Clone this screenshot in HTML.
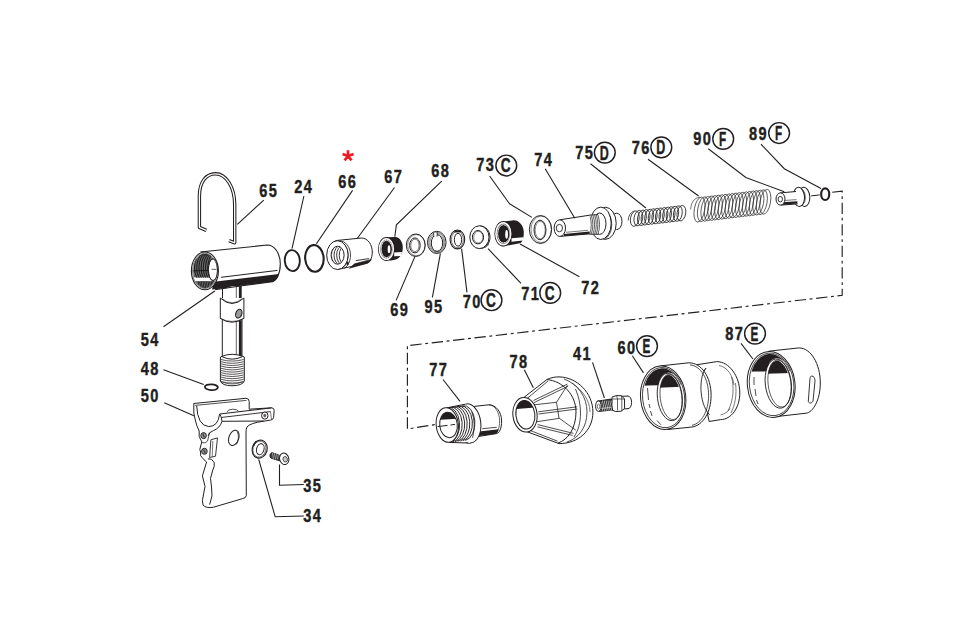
<!DOCTYPE html>
<html><head><meta charset="utf-8"><style>
html,body{margin:0;padding:0;background:#fff;width:966px;height:627px;overflow:hidden}
svg{display:block}
text{font-family:"Liberation Sans",sans-serif;font-weight:bold;fill:#231f20;stroke:#231f20;stroke-width:0.45px}
</style></head><body>
<svg width="966" height="627" viewBox="0 0 966 627">
<path d="M222.3,320 L222.3,357 M242,320 L242,357" fill="none" stroke="#231f20" stroke-width="1.0" stroke-linejoin="round" />
<path d="M238.9,284 L241.7,284 L241.7,357 L238.9,357 Z" fill="#231f20" stroke="none" />
<path d="M236.3,286 L236.3,356" fill="none" stroke="#231f20" stroke-width="0.7" stroke-linejoin="round" />
<path d="M222.5,288 L222.5,298" fill="none" stroke="#231f20" stroke-width="1.0" stroke-linejoin="round" />
<path d="M220.3,298 L220.3,318.4 Q232,326 243.9,318.4 L243.9,298" fill="#fff" stroke="#231f20" stroke-width="1.0" stroke-linejoin="round" />
<path d="M220.3,298 Q232,309 243.9,298" fill="none" stroke="#231f20" stroke-width="1.0" stroke-linejoin="round" />
<path d="M222,298.6 Q232,307 242.3,298.6" fill="none" stroke="#231f20" stroke-width="0.6" stroke-linejoin="round" />
<path d="M220.3,318.4 Q232,324.5 243.9,318.4" fill="none" stroke="#231f20" stroke-width="0.6" stroke-linejoin="round" />
<ellipse cx="238.8" cy="313.7" rx="3.0" ry="4.5" fill="#9a9a9a" stroke="#231f20" stroke-width="1.1" transform="rotate(20 238.8 313.7)" />
<path d="M220.4,357 L220.4,381 Q222,385.6 232,385.8 Q242.5,385.6 244.3,381 L244.3,357 Q232,351.5 220.4,357 Z" fill="#fff" stroke="#231f20" stroke-width="1.0" stroke-linejoin="round" />
<path d="M221,359.5 Q232,362.7 243.7,359.5" fill="none" stroke="#231f20" stroke-width="0.75" stroke-linejoin="round" />
<path d="M221,361.7 Q232,364.9 243.7,361.7" fill="none" stroke="#231f20" stroke-width="0.75" stroke-linejoin="round" />
<path d="M221,363.9 Q232,367.1 243.7,363.9" fill="none" stroke="#231f20" stroke-width="0.75" stroke-linejoin="round" />
<path d="M221,366.1 Q232,369.3 243.7,366.1" fill="none" stroke="#231f20" stroke-width="0.75" stroke-linejoin="round" />
<path d="M221,368.3 Q232,371.5 243.7,368.3" fill="none" stroke="#231f20" stroke-width="0.75" stroke-linejoin="round" />
<path d="M221,370.5 Q232,373.7 243.7,370.5" fill="none" stroke="#231f20" stroke-width="0.75" stroke-linejoin="round" />
<path d="M221,372.7 Q232,375.9 243.7,372.7" fill="none" stroke="#231f20" stroke-width="0.75" stroke-linejoin="round" />
<path d="M221,374.9 Q232,378.1 243.7,374.9" fill="none" stroke="#231f20" stroke-width="0.75" stroke-linejoin="round" />
<path d="M221,377.1 Q232,380.3 243.7,377.1" fill="none" stroke="#231f20" stroke-width="0.75" stroke-linejoin="round" />
<path d="M221,379.3 Q232,382.5 243.7,379.3" fill="none" stroke="#231f20" stroke-width="0.75" stroke-linejoin="round" />
<path d="M221,381.5 Q232,384.7 243.7,381.5" fill="none" stroke="#231f20" stroke-width="0.75" stroke-linejoin="round" />
<path d="M222.3,356.8 Q232,361.5 242,356.8" fill="none" stroke="#231f20" stroke-width="1.0" stroke-linejoin="round" />
<path d="M222,382 Q232,386 242.7,382" fill="none" stroke="#231f20" stroke-width="0.6" stroke-linejoin="round" />
<path d="M200.4,252 L267.3,245 C274.5,245 280.3,253.5 280.3,264 C280.3,273.5 276.5,281.5 270.5,282 L242,285.7 L215,289.8" fill="#fff" stroke="#231f20" stroke-width="1.1" stroke-linejoin="round" />
<path d="M214,281.8 L278.9,274 C278.3,278.3 275.5,281.6 270.5,282 L242,285.6 L238,286.2 L232.5,286.3 Q229,286.6 226,288.3 L212,289.6 Z" fill="#231f20" stroke="none" />
<path d="M221,277.3 L277.4,270.4" fill="none" stroke="#231f20" stroke-width="1.0" stroke-linejoin="round" />
<ellipse cx="204.9" cy="270.9" rx="13.5" ry="18.9" fill="#fff" stroke="#231f20" stroke-width="1.1" />
<ellipse cx="204.9" cy="270.9" rx="12.4" ry="17.8" fill="none" stroke="#231f20" stroke-width="0.6" />
<clipPath id="c54"><ellipse cx="204.9" cy="270.9" rx="11.7" ry="17.1"/></clipPath>
<g clip-path="url(#c54)">
<path d="M190,250 L214,250 L214,277.4 L190,277.4 Z" fill="#6a6a6a" stroke="none" />
<path d="M201.5,254.0 A7,13.5 0 0 0 201.5,281.0" fill="none" stroke="#1e1e1e" stroke-width="1.1" stroke-linejoin="round" />
<path d="M203.7,254.0 A7,13.5 0 0 0 203.7,281.0" fill="none" stroke="#1e1e1e" stroke-width="1.1" stroke-linejoin="round" />
<path d="M205.9,254.0 A7,13.5 0 0 0 205.9,281.0" fill="none" stroke="#1e1e1e" stroke-width="1.1" stroke-linejoin="round" />
<path d="M208.1,254.0 A7,13.5 0 0 0 208.1,281.0" fill="none" stroke="#1e1e1e" stroke-width="1.1" stroke-linejoin="round" />
<path d="M210.3,254.0 A7,13.5 0 0 0 210.3,281.0" fill="none" stroke="#1e1e1e" stroke-width="1.1" stroke-linejoin="round" />
<path d="M212.5,254.0 A7,13.5 0 0 0 212.5,281.0" fill="none" stroke="#1e1e1e" stroke-width="1.1" stroke-linejoin="round" />
<path d="M214.7,254.0 A7,13.5 0 0 0 214.7,281.0" fill="none" stroke="#1e1e1e" stroke-width="1.1" stroke-linejoin="round" />
<path d="M190,277.8 L216,277.8 L216,281.0 L190,281.0 Z" fill="#fff" stroke="none" />
<path d="M190,281.3 L216,281.3 L216,292 L190,292 Z" fill="#2e2e2e" stroke="none" />
<path d="M198.0,281.5 L196.5,287.5" fill="none" stroke="#999" stroke-width="0.5" stroke-linejoin="round" />
<path d="M200.5,281.5 L199.0,287.5" fill="none" stroke="#999" stroke-width="0.5" stroke-linejoin="round" />
<path d="M203.0,281.5 L201.5,287.5" fill="none" stroke="#999" stroke-width="0.5" stroke-linejoin="round" />
<path d="M205.5,281.5 L204.0,287.5" fill="none" stroke="#999" stroke-width="0.5" stroke-linejoin="round" />
<path d="M208.0,281.5 L206.5,287.5" fill="none" stroke="#999" stroke-width="0.5" stroke-linejoin="round" />
<path d="M210.5,281.5 L209.0,287.5" fill="none" stroke="#999" stroke-width="0.5" stroke-linejoin="round" />
<ellipse cx="213" cy="269.7" rx="4.6" ry="10.9" fill="#fff" stroke="#231f20" stroke-width="0.9" />
<path d="M192,270.8 L208.5,270.5" fill="none" stroke="#111" stroke-width="0.9" stroke-linejoin="round" />
</g>
<ellipse cx="213" cy="269.7" rx="4.6" ry="10.9" fill="none" stroke="#231f20" stroke-width="0.8" />
<path d="M211.5,269.3 L216.5,269.3 M217.5,268 L217.5,271" fill="none" stroke="#231f20" stroke-width="0.7" stroke-linejoin="round" />
<path d="M206.3,230.4 L199.4,227.4 L199.4,196 C199.4,182 206,173.8 215.5,173.8 C226,173.8 234.7,187 234.7,205 L234.7,242.8 L229,240.6" fill="none" stroke="#231f20" stroke-width="3.4" stroke-linejoin="round" />
<path d="M206.3,230.4 L199.4,227.4 L199.4,196 C199.4,182 206,173.8 215.5,173.8 C226,173.8 234.7,187 234.7,205 L234.7,242.8 L229,240.6" fill="none" stroke="#fff" stroke-width="1.3" stroke-linejoin="round" />
<ellipse cx="292.3" cy="260.6" rx="7.5" ry="10.5" fill="none" stroke="#231f20" stroke-width="1.9" transform="rotate(-4 292.3 260.6)" />
<ellipse cx="314.4" cy="258.4" rx="9.25" ry="13.35" fill="none" stroke="#231f20" stroke-width="2.1" transform="rotate(-4 314.4 258.4)" />
<path d="M335.4,240.6 L361.5,238 C368,238 372.3,245 372.3,252 C372.3,258.5 369.5,263 365.5,263.5 L337.4,269.5" fill="#fff" stroke="#231f20" stroke-width="1.0" stroke-linejoin="round" />
<path d="M349.5,268.2 L365.5,263.8 C368.3,263.2 370.5,261.5 371.3,259.4 L354.5,263.8 Z" fill="#231f20" stroke="#231f20" stroke-width="0.6" stroke-linejoin="round" />
<path d="M355.8,260.6 L369,258.6" fill="none" stroke="#231f20" stroke-width="0.9" stroke-linejoin="round" />
<path d="M337.6,240.9 A10.7,14.4 0 0 1 341.6,268.6" fill="none" stroke="#231f20" stroke-width="0.8" stroke-linejoin="round" />
<path d="M340.0,240.9 A10.7,14.4 0 0 1 344.0,268.6" fill="none" stroke="#231f20" stroke-width="0.8" stroke-linejoin="round" />
<ellipse cx="337.4" cy="255.1" rx="10.7" ry="14.4" fill="#fff" stroke="#231f20" stroke-width="1.0" />
<ellipse cx="337.6" cy="255.2" rx="6.5" ry="9" fill="#fff" stroke="#231f20" stroke-width="1.0" />
<clipPath id="c67"><ellipse cx="337.6" cy="255.2" rx="6.0" ry="8.5"/></clipPath>
<g clip-path="url(#c67)">
<path d="M338.0,245.5 A6.5,9.6 0 0 0 338.0,264.9" fill="none" stroke="#231f20" stroke-width="0.9" stroke-linejoin="round" />
<path d="M340.6,245.5 A6.5,9.6 0 0 0 340.6,264.9" fill="none" stroke="#231f20" stroke-width="0.9" stroke-linejoin="round" />
<path d="M343.2,245.5 A6.5,9.6 0 0 0 343.2,264.9" fill="none" stroke="#231f20" stroke-width="0.9" stroke-linejoin="round" />
<path d="M345.8,245.5 A6.5,9.6 0 0 0 345.8,264.9" fill="none" stroke="#231f20" stroke-width="0.9" stroke-linejoin="round" />
</g>
<path d="M346.3,262.3 L348.6,261.8 L348.9,264.6 L346.8,265.2 Z" fill="#231f20" stroke="none" />
<path d="M386.5,237.3 L395.3,236.9 C400,237.4 402.8,242 402.8,247.5 C402.8,253.5 400,258.7 395,259.8 L389.5,260.8 Z" fill="#231f20" stroke="none" />
<ellipse cx="386.4" cy="249" rx="8.4" ry="11.9" fill="#231f20" stroke="none" />
<ellipse cx="386.4" cy="249" rx="6.8" ry="10.2" fill="none" stroke="#fff" stroke-width="1.7" />
<ellipse cx="386.5" cy="249" rx="5.5" ry="8.7" fill="none" stroke="#f4f4f4" stroke-width="1.0" />
<ellipse cx="386.5" cy="249" rx="6.1" ry="9.4" fill="none" stroke="#888" stroke-width="0.4" />
<ellipse cx="387.3" cy="249.3" rx="4.5" ry="7.3" fill="#231f20" stroke="none" />
<ellipse cx="389.0" cy="249.2" rx="1.3" ry="3.9" fill="#fff" stroke="none" />
<path d="M394.2,252.4 L401.9,252.1 L401.3,256 L394.2,256.3 Z" fill="#fff" stroke="none" />
<ellipse cx="415.8" cy="245.2" rx="9.45" ry="11.25" fill="#fff" stroke="#231f20" stroke-width="1.0" />
<ellipse cx="416.3" cy="245.2" rx="8.6" ry="10.6" fill="none" stroke="#231f20" stroke-width="0.5" />
<ellipse cx="414.9" cy="245.4" rx="5.3" ry="7.5" fill="none" stroke="#231f20" stroke-width="1.0" />
<ellipse cx="414.9" cy="245.4" rx="4.1" ry="6.3" fill="none" stroke="#231f20" stroke-width="0.6" />
<ellipse cx="436.8" cy="242.4" rx="9.3" ry="11.1" fill="#fff" stroke="#231f20" stroke-width="1.0" />
<ellipse cx="436.8" cy="242.5" rx="8.1" ry="10.0" fill="none" stroke="#231f20" stroke-width="0.5" />
<ellipse cx="436.9" cy="242.7" rx="7.0" ry="9.1" fill="none" stroke="#231f20" stroke-width="0.5" />
<ellipse cx="437.0" cy="243.0" rx="5.7" ry="8.3" fill="none" stroke="#231f20" stroke-width="1.0" />
<path d="M433.4,233.2 L433.8,236.6 L436.9,236.6 L437.2,233.0 Z" fill="#fff" stroke="none" />
<path d="M433.4,232.4 L433.9,236.8 M437.3,232.2 L437.0,236.6" fill="none" stroke="#231f20" stroke-width="0.8" stroke-linejoin="round" />
<ellipse cx="457.4" cy="239.4" rx="7.3" ry="9.45" fill="#fff" stroke="#231f20" stroke-width="1.1" />
<ellipse cx="457.4" cy="239.5" rx="6.0" ry="8.2" fill="none" stroke="#231f20" stroke-width="0.6" />
<ellipse cx="458" cy="239.7" rx="3.65" ry="6.45" fill="none" stroke="#231f20" stroke-width="1.0" />
<path d="M454.2,230.6 L454.6,232.5 L460.8,232.3 L461,230.4 Z" fill="#231f20" stroke="none" />
<path d="M479.4,225.9 C486,225.9 490,231 490,237.2 C490,243.5 486,248.6 479.4,248.6" fill="#fff" stroke="#231f20" stroke-width="1.0" stroke-linejoin="round" />
<path d="M486.5,241 L489.5,240.5 L488.6,245 L485,248 Z" fill="#555" stroke="none" />
<ellipse cx="479.4" cy="237.2" rx="9.6" ry="11.4" fill="#fff" stroke="#231f20" stroke-width="1.0" />
<ellipse cx="478" cy="237.2" rx="5.6" ry="6.7" fill="none" stroke="#231f20" stroke-width="1.0" />
<ellipse cx="478.3" cy="237.2" rx="4.6" ry="5.8" fill="none" stroke="#231f20" stroke-width="0.5" />
<path d="M504.9,221.3 L513.9,220.3 C519.5,220.3 523.8,226 523.8,232.5 C523.8,238.5 522,243 519.9,243.3 L502.4,246.5 Z" fill="#231f20" stroke="none" />
<ellipse cx="503.3" cy="233.7" rx="8.9" ry="12.8" fill="#231f20" stroke="none" />
<ellipse cx="503.3" cy="233.7" rx="7.3" ry="10.9" fill="none" stroke="#fff" stroke-width="1.7" />
<ellipse cx="503.5" cy="233.8" rx="5.9" ry="9.2" fill="none" stroke="#f4f4f4" stroke-width="1.0" />
<ellipse cx="503.4" cy="233.8" rx="6.6" ry="10.0" fill="none" stroke="#888" stroke-width="0.4" />
<ellipse cx="504.5" cy="234.1" rx="4.9" ry="8.0" fill="#231f20" stroke="none" />
<ellipse cx="506.6" cy="234.3" rx="1.4" ry="4.4" fill="#fff" stroke="none" />
<path d="M511.5,238.2 L523.4,237.2 L523,240.6 L511.5,241.7 Z" fill="#fff" stroke="none" />
<ellipse cx="540.5" cy="229.5" rx="11.1" ry="14" fill="#fff" stroke="#231f20" stroke-width="1.0" />
<ellipse cx="541.2" cy="229.4" rx="10.2" ry="13.2" fill="none" stroke="#231f20" stroke-width="0.5" />
<ellipse cx="540" cy="230" rx="6" ry="9.8" fill="none" stroke="#231f20" stroke-width="1.0" />
<ellipse cx="540.2" cy="230" rx="5" ry="8.7" fill="none" stroke="#231f20" stroke-width="0.5" />
<ellipse cx="616.6" cy="221.4" rx="5.4" ry="8.2" fill="#fff" stroke="#231f20" stroke-width="1.0" />
<ellipse cx="605.2" cy="223.3" rx="11.0" ry="16.1" fill="#fff" stroke="#231f20" stroke-width="1.0" />
<ellipse cx="600.8" cy="223.3" rx="10.4" ry="16.2" fill="#fff" stroke="#231f20" stroke-width="1.0" />
<path d="M609.6,215.4 A10,15 0 0 1 605.4,238.6" fill="none" stroke="#231f20" stroke-width="0.8" stroke-linejoin="round" />
<ellipse cx="599.7" cy="223.7" rx="6.3" ry="10.7" fill="#fff" stroke="#231f20" stroke-width="1.0" />
<path d="M589.3,215.0 L596.5,214.6 L598.2,234.5 L589.3,234.3 Z" fill="#fff" stroke="none" />
<path d="M589.6,215.2 Q593.0,224.8 589.6,234.2" fill="none" stroke="#2a2a2a" stroke-width="0.75" stroke-linejoin="round" />
<path d="M591.2,215.1 Q594.6,224.8 591.2,234.2" fill="none" stroke="#2a2a2a" stroke-width="0.75" stroke-linejoin="round" />
<path d="M592.9,215.0 Q596.3,224.8 592.9,234.2" fill="none" stroke="#2a2a2a" stroke-width="0.75" stroke-linejoin="round" />
<path d="M594.6,214.9 Q598.0,224.8 594.6,234.2" fill="none" stroke="#2a2a2a" stroke-width="0.75" stroke-linejoin="round" />
<path d="M596.2,214.8 Q599.6,224.8 596.2,234.2" fill="none" stroke="#2a2a2a" stroke-width="0.75" stroke-linejoin="round" />
<path d="M597.9,214.7 Q601.2,224.8 597.9,234.2" fill="none" stroke="#2a2a2a" stroke-width="0.75" stroke-linejoin="round" />
<path d="M589.3,215.1 L598,214.5" fill="none" stroke="#231f20" stroke-width="0.9" stroke-linejoin="round" />
<path d="M589.3,234.2 L598.5,234.4" fill="none" stroke="#231f20" stroke-width="0.9" stroke-linejoin="round" />
<path d="M559.8,219.8 L589.6,215.2 L589.6,233.8 L560.4,236.4 Z" fill="#fff" stroke="none" />
<path d="M559.8,219.8 L589.6,215.2" fill="none" stroke="#231f20" stroke-width="1.0" stroke-linejoin="round" />
<path d="M560.4,236.4 L589.6,233.8" fill="none" stroke="#231f20" stroke-width="1.0" stroke-linejoin="round" />
<path d="M564,233.9 L589.6,231.6 L589.6,233.9 L564,236.1 Z" fill="#231f20" stroke="none" />
<path d="M566,232.3 L588,230.3" fill="none" stroke="#231f20" stroke-width="0.6" stroke-linejoin="round" />
<ellipse cx="559.8" cy="228.1" rx="5.7" ry="8.3" fill="#fff" stroke="#231f20" stroke-width="1.0" />
<ellipse cx="559.4" cy="228.1" rx="3.1" ry="3.7" fill="#fff" stroke="#231f20" stroke-width="0.9" />
<ellipse cx="634.80" cy="218.60" rx="4.3" ry="7.8" fill="none" stroke="#2a2a2a" stroke-width="0.85" transform="rotate(10 634.80 218.60)"/>
<ellipse cx="638.38" cy="218.18" rx="4.3" ry="7.8" fill="none" stroke="#2a2a2a" stroke-width="0.85" transform="rotate(10 638.38 218.18)"/>
<ellipse cx="641.97" cy="217.77" rx="4.3" ry="7.8" fill="none" stroke="#2a2a2a" stroke-width="0.85" transform="rotate(10 641.97 217.77)"/>
<ellipse cx="645.55" cy="217.35" rx="4.3" ry="7.8" fill="none" stroke="#2a2a2a" stroke-width="0.85" transform="rotate(10 645.55 217.35)"/>
<ellipse cx="649.14" cy="216.94" rx="4.3" ry="7.8" fill="none" stroke="#2a2a2a" stroke-width="0.85" transform="rotate(10 649.14 216.94)"/>
<ellipse cx="652.72" cy="216.52" rx="4.3" ry="7.8" fill="none" stroke="#2a2a2a" stroke-width="0.85" transform="rotate(10 652.72 216.52)"/>
<ellipse cx="656.31" cy="216.11" rx="4.3" ry="7.8" fill="none" stroke="#2a2a2a" stroke-width="0.85" transform="rotate(10 656.31 216.11)"/>
<ellipse cx="659.89" cy="215.69" rx="4.3" ry="7.8" fill="none" stroke="#2a2a2a" stroke-width="0.85" transform="rotate(10 659.89 215.69)"/>
<ellipse cx="663.48" cy="215.28" rx="4.3" ry="7.8" fill="none" stroke="#2a2a2a" stroke-width="0.85" transform="rotate(10 663.48 215.28)"/>
<ellipse cx="667.06" cy="214.86" rx="4.3" ry="7.8" fill="none" stroke="#2a2a2a" stroke-width="0.85" transform="rotate(10 667.06 214.86)"/>
<ellipse cx="670.65" cy="214.45" rx="4.3" ry="7.8" fill="none" stroke="#2a2a2a" stroke-width="0.85" transform="rotate(10 670.65 214.45)"/>
<ellipse cx="674.23" cy="214.03" rx="4.3" ry="7.8" fill="none" stroke="#2a2a2a" stroke-width="0.85" transform="rotate(10 674.23 214.03)"/>
<ellipse cx="677.82" cy="213.62" rx="4.3" ry="7.8" fill="none" stroke="#2a2a2a" stroke-width="0.85" transform="rotate(10 677.82 213.62)"/>
<ellipse cx="681.40" cy="213.20" rx="4.3" ry="7.8" fill="none" stroke="#2a2a2a" stroke-width="0.85" transform="rotate(10 681.40 213.20)"/>
<path d="M628.2,220.5 Q628.5,213 634.5,210.8" fill="none" stroke="#2e2e2e" stroke-width="0.8" stroke-linejoin="round" />
<ellipse cx="699.50" cy="209.60" rx="5.2" ry="12.6" fill="none" stroke="#363636" stroke-width="0.75" transform="rotate(10 699.50 209.60)"/>
<ellipse cx="702.96" cy="209.19" rx="5.2" ry="12.6" fill="none" stroke="#363636" stroke-width="0.75" transform="rotate(10 702.96 209.19)"/>
<ellipse cx="706.43" cy="208.78" rx="5.2" ry="12.6" fill="none" stroke="#363636" stroke-width="0.75" transform="rotate(10 706.43 208.78)"/>
<ellipse cx="709.89" cy="208.37" rx="5.2" ry="12.6" fill="none" stroke="#363636" stroke-width="0.75" transform="rotate(10 709.89 208.37)"/>
<ellipse cx="713.35" cy="207.96" rx="5.2" ry="12.6" fill="none" stroke="#363636" stroke-width="0.75" transform="rotate(10 713.35 207.96)"/>
<ellipse cx="716.82" cy="207.55" rx="5.2" ry="12.6" fill="none" stroke="#363636" stroke-width="0.75" transform="rotate(10 716.82 207.55)"/>
<ellipse cx="720.28" cy="207.14" rx="5.2" ry="12.6" fill="none" stroke="#363636" stroke-width="0.75" transform="rotate(10 720.28 207.14)"/>
<ellipse cx="723.74" cy="206.73" rx="5.2" ry="12.6" fill="none" stroke="#363636" stroke-width="0.75" transform="rotate(10 723.74 206.73)"/>
<ellipse cx="727.21" cy="206.32" rx="5.2" ry="12.6" fill="none" stroke="#363636" stroke-width="0.75" transform="rotate(10 727.21 206.32)"/>
<ellipse cx="730.67" cy="205.91" rx="5.2" ry="12.6" fill="none" stroke="#363636" stroke-width="0.75" transform="rotate(10 730.67 205.91)"/>
<ellipse cx="734.13" cy="205.49" rx="5.2" ry="12.6" fill="none" stroke="#363636" stroke-width="0.75" transform="rotate(10 734.13 205.49)"/>
<ellipse cx="737.59" cy="205.08" rx="5.2" ry="12.6" fill="none" stroke="#363636" stroke-width="0.75" transform="rotate(10 737.59 205.08)"/>
<ellipse cx="741.06" cy="204.67" rx="5.2" ry="12.6" fill="none" stroke="#363636" stroke-width="0.75" transform="rotate(10 741.06 204.67)"/>
<ellipse cx="744.52" cy="204.26" rx="5.2" ry="12.6" fill="none" stroke="#363636" stroke-width="0.75" transform="rotate(10 744.52 204.26)"/>
<ellipse cx="747.98" cy="203.85" rx="5.2" ry="12.6" fill="none" stroke="#363636" stroke-width="0.75" transform="rotate(10 747.98 203.85)"/>
<ellipse cx="751.45" cy="203.44" rx="5.2" ry="12.6" fill="none" stroke="#363636" stroke-width="0.75" transform="rotate(10 751.45 203.44)"/>
<ellipse cx="754.91" cy="203.03" rx="5.2" ry="12.6" fill="none" stroke="#363636" stroke-width="0.75" transform="rotate(10 754.91 203.03)"/>
<ellipse cx="758.37" cy="202.62" rx="5.2" ry="12.6" fill="none" stroke="#363636" stroke-width="0.75" transform="rotate(10 758.37 202.62)"/>
<ellipse cx="761.84" cy="202.21" rx="5.2" ry="12.6" fill="none" stroke="#363636" stroke-width="0.75" transform="rotate(10 761.84 202.21)"/>
<ellipse cx="765.30" cy="201.80" rx="5.2" ry="12.6" fill="none" stroke="#363636" stroke-width="0.75" transform="rotate(10 765.30 201.80)"/>
<path d="M690.6,209.5 Q691,198.5 700,197" fill="none" stroke="#3a3a3a" stroke-width="0.7" stroke-linejoin="round" />
<ellipse cx="804.2" cy="196.9" rx="5.6" ry="9.6" fill="#fff" stroke="#231f20" stroke-width="1.0" transform="rotate(-4 804.2 196.9)" />
<ellipse cx="798.9" cy="196.9" rx="5.6" ry="9.6" fill="#fff" stroke="#231f20" stroke-width="1.0" transform="rotate(-4 798.9 196.9)" />
<path d="M802.3,189.3 A5.2,8.6 -4 0 1 802.6,204.8" fill="none" stroke="#231f20" stroke-width="0.7" stroke-linejoin="round" />
<path d="M780.5,192.9 L796,191.4 L797,204 L781,205.1 Z" fill="#fff" stroke="none" />
<path d="M780.5,192.9 L796,191.5" fill="none" stroke="#231f20" stroke-width="1.0" stroke-linejoin="round" />
<path d="M781,205.1 L797.5,203.9" fill="none" stroke="#231f20" stroke-width="1.0" stroke-linejoin="round" />
<path d="M783,202.2 L797.3,201.2 L797.5,203.6 L783,204.8 Z" fill="#231f20" stroke="none" />
<path d="M784,200.5 L796.5,199.6" fill="none" stroke="#231f20" stroke-width="0.6" stroke-linejoin="round" />
<ellipse cx="780.5" cy="199" rx="4.5" ry="6.1" fill="#fff" stroke="#231f20" stroke-width="1.0" />
<ellipse cx="780.3" cy="199.2" rx="2.2" ry="2.8" fill="none" stroke="#231f20" stroke-width="0.9" />
<path d="M811.1,195.9 L819.7,194.9" fill="none" stroke="#231f20" stroke-width="1.0" stroke-linejoin="round" />
<ellipse cx="825.2" cy="194.2" rx="4.05" ry="5.8" fill="none" stroke="#231f20" stroke-width="2.1" />
<path d="M474.4,406.4 L488.7,404.8 C496,404.8 501.6,412 501.6,421 C501.6,428.5 499.5,433 496.5,433.6 L477.6,436.6 Z" fill="#fff" stroke="#231f20" stroke-width="1.0" stroke-linejoin="round" />
<path d="M488.7,404.8 C494.5,404.8 499.6,412 499.6,421 C499.6,427.5 498,431.5 495.5,433.4" fill="none" stroke="#231f20" stroke-width="0.7" stroke-linejoin="round" />
<path d="M479.2,431.5 L498.6,429.3 C498,431.8 497.3,433.2 495.9,433.8 L477.6,436.2 Z" fill="#231f20" stroke="none" />
<path d="M482.3,428.7 L496.7,427.3" fill="none" stroke="#231f20" stroke-width="0.8" stroke-linejoin="round" />
<ellipse cx="468.5" cy="423.5" rx="12.3" ry="19.7" fill="#fff" stroke="#231f20" stroke-width="1.0" transform="rotate(-6.5 468.5 423.5)" />
<path d="M471.8,411.8 Q476.2,423.3 472.6,437.8" fill="none" stroke="#231f20" stroke-width="0.8" stroke-linejoin="round" />
<path d="M447.3,407.6 L457.5,405.5 L466,404.5 L470,442.5 L449,442.4 Z" fill="#fff" stroke="none" />
<path d="M446.5,408 L458,405.6 L465,404.3" fill="none" stroke="#231f20" stroke-width="1.0" stroke-linejoin="round" />
<path d="M447.0,407.6 A11,17.3 0 0 1 450.0,442.2" fill="none" stroke="#231f20" stroke-width="0.95" stroke-linejoin="round" />
<path d="M449.6,407.3 A11,17.3 0 0 1 452.6,441.9" fill="none" stroke="#231f20" stroke-width="0.95" stroke-linejoin="round" />
<path d="M452.1,407.0 A11,17.3 0 0 1 455.1,441.6" fill="none" stroke="#231f20" stroke-width="0.95" stroke-linejoin="round" />
<path d="M454.6,406.7 A11,17.3 0 0 1 457.6,441.3" fill="none" stroke="#231f20" stroke-width="0.95" stroke-linejoin="round" />
<path d="M457.2,406.4 A11,17.3 0 0 1 460.2,441.0" fill="none" stroke="#231f20" stroke-width="0.95" stroke-linejoin="round" />
<path d="M459.8,406.1 A11,17.3 0 0 1 462.8,440.7" fill="none" stroke="#231f20" stroke-width="0.95" stroke-linejoin="round" />
<path d="M462.3,405.8 A11,17.3 0 0 1 465.3,440.4" fill="none" stroke="#231f20" stroke-width="0.95" stroke-linejoin="round" />
<path d="M449,442.4 L468,443" fill="none" stroke="#231f20" stroke-width="1.0" stroke-linejoin="round" />
<ellipse cx="447.3" cy="425" rx="11.1" ry="17.4" fill="#fff" stroke="#231f20" stroke-width="1.0" transform="rotate(-6.5 447.3 425)" />
<clipPath id="c77"><ellipse cx="448.5" cy="425" rx="8.8" ry="12.8" transform="rotate(-6.5 448.5 425)"/></clipPath>
<path d="M430,400 L470,400 L470,417.9 L440,419.8 L430,420 Z" fill="#231f20" stroke="none" clip-path="url(#c77)"/>
<ellipse cx="448.5" cy="425" rx="8.8" ry="12.8" fill="none" stroke="#231f20" stroke-width="1.0" transform="rotate(-6.5 448.5 425)" />
<path d="M437.5,426.6 L447.5,425.4 M450.5,425 L455,424.4" fill="none" stroke="#231f20" stroke-width="1.0" stroke-linejoin="round" />
<path d="M523.8,397.5 L546.8,379.6 C552,377.3 555,376.9 559,376.9 C577,377 592.9,393 592.9,412 C592.9,431 578,443.6 559,443.6 L526.2,431.4 Z" fill="#fff" stroke="#231f20" stroke-width="1.0" stroke-linejoin="round" />
<path d="M526.2,399.3 L548,381" fill="none" stroke="#231f20" stroke-width="0.8" stroke-linejoin="round" />
<path d="M529,430.0 L557.5,441.2" fill="none" stroke="#231f20" stroke-width="0.8" stroke-linejoin="round" />
<path d="M546.8,379.6 C563,381 576,395 576,412 C576,428 568,440 558,443" fill="none" stroke="#231f20" stroke-width="1.0" stroke-linejoin="round" />
<path d="M564,379 C578,384 587,397 587,412 C587,427 579,438 567,442" fill="none" stroke="#231f20" stroke-width="0.8" stroke-linejoin="round" />
<path d="M572,383 C582,390 590,400 590,412" fill="none" stroke="#231f20" stroke-width="0.6" stroke-linejoin="round" />
<path d="M575.5,389 C579,397 580.5,405 580.5,413 C580.5,423 578,431 574,437" fill="none" stroke="#231f20" stroke-width="0.8" stroke-linejoin="round" />
<path d="M533.5,400.5 L567.4,384.1 M534,402.6 L568.2,386.2" fill="none" stroke="#231f20" stroke-width="0.8" stroke-linejoin="round" />
<path d="M538.3,411.8 L577.1,406.8 M538.5,414 L577.3,409" fill="none" stroke="#231f20" stroke-width="0.8" stroke-linejoin="round" />
<path d="M537.7,424.6 L573.5,433.4 M537.4,426.8 L572.5,435.4" fill="none" stroke="#231f20" stroke-width="0.8" stroke-linejoin="round" />
<path d="M567.4,385.3 L556.5,402.3 L559,418.1 L575.9,430.2" fill="none" stroke="#231f20" stroke-width="0.8" stroke-linejoin="round" />
<path d="M534,404.8 L556.5,402.3 M537,421.7 L559,418.4" fill="none" stroke="#231f20" stroke-width="0.8" stroke-linejoin="round" />
<ellipse cx="525" cy="414.8" rx="12.1" ry="17.3" fill="#fff" stroke="#231f20" stroke-width="1.0" transform="rotate(-6.5 525 414.8)" />
<clipPath id="c78"><ellipse cx="525.4" cy="414.8" rx="9.5" ry="14.3" transform="rotate(-6.5 525.4 414.8)"/></clipPath>
<path d="M510,395 L540,395 L540,407.2 L516.5,409 L510,409 Z" fill="#231f20" stroke="none" clip-path="url(#c78)"/>
<ellipse cx="525.4" cy="414.8" rx="9.5" ry="14.3" fill="none" stroke="#231f20" stroke-width="1.0" transform="rotate(-6.5 525.4 414.8)" />
<ellipse cx="628" cy="402.4" rx="3.6" ry="6.3" fill="#fff" stroke="#231f20" stroke-width="1.0" />
<path d="M619.5,396.3 L628,396.1 L628,408.7 L619.5,409 Z" fill="#fff" stroke="none" />
<path d="M619.5,396.3 L628,396.1 M619.5,409 L628,408.7" fill="none" stroke="#231f20" stroke-width="1.0" stroke-linejoin="round" />
<path d="M612,397.2 L616.5,395.5 L621.5,395.8 L624.5,399 L624.6,408.5 L621,411.3 L615.5,411.5 L612,410 Z" fill="#fff" stroke="#231f20" stroke-width="1.0" stroke-linejoin="round" />
<path d="M616.5,395.5 L617.5,399 L617.5,410.5 M621.5,395.8 L621.8,399.5 L621.8,410.8 M612.5,399 L624.5,399" fill="none" stroke="#231f20" stroke-width="0.7" stroke-linejoin="round" />
<path d="M597,401.2 L611.5,399 L612.5,410 L598.8,411.4 Z" fill="#3a3a3a" stroke="#231f20" stroke-width="1.0" stroke-linejoin="round" />
<path d="M600.0,410.8 L602.6,400.6" fill="none" stroke="#fff" stroke-width="0.6" stroke-linejoin="round" />
<path d="M602.2,410.8 L604.8,400.6" fill="none" stroke="#fff" stroke-width="0.6" stroke-linejoin="round" />
<path d="M604.4,410.8 L607.0,400.6" fill="none" stroke="#fff" stroke-width="0.6" stroke-linejoin="round" />
<path d="M606.6,410.8 L609.2,400.6" fill="none" stroke="#fff" stroke-width="0.6" stroke-linejoin="round" />
<path d="M608.8,410.8 L611.4,400.6" fill="none" stroke="#fff" stroke-width="0.6" stroke-linejoin="round" />
<path d="M611.0,410.8 L613.6,400.6" fill="none" stroke="#fff" stroke-width="0.6" stroke-linejoin="round" />
<path d="M600,408.6 L611,407.4" fill="none" stroke="#ddd" stroke-width="0.8" stroke-linejoin="round" />
<ellipse cx="598.4" cy="406.2" rx="2.8" ry="5.2" fill="#fff" stroke="#231f20" stroke-width="1.0" />
<ellipse cx="598.6" cy="406.5" rx="1.3" ry="2.4" fill="none" stroke="#231f20" stroke-width="0.6" />
<path d="M696.4,364.8 L716.8,361.6 C729,361.6 739.8,376 739.8,393 C739.8,408 731,419.6 720.6,419.6 L709.2,421.5 Z" fill="#fff" stroke="#231f20" stroke-width="1.0" stroke-linejoin="round" />
<path d="M719,365.5 C727.5,367 733,376 734,385" fill="none" stroke="#231f20" stroke-width="0.6" stroke-linejoin="round" />
<path d="M731.5,377 C734,385 734,400 728,411" fill="none" stroke="#231f20" stroke-width="0.6" stroke-linejoin="round" />
<path d="M735.5,383 C737,395 735,405 731,413" fill="none" stroke="#231f20" stroke-width="0.6" stroke-linejoin="round" />
<path d="M706,368 C699,376 698.5,402 709.2,414.5" fill="none" stroke="#231f20" stroke-width="0.9" stroke-linejoin="round" />
<path d="M720.6,415 C725,414 728.5,411 730,408.5" fill="none" stroke="#231f20" stroke-width="0.6" stroke-linejoin="round" />
<path d="M660.2,365.9 L688.8,362.8 C701.5,362.8 711.1,377 711.1,395.4 C711.1,412 703,425.5 692,427 L667.5,429.5 Z" fill="#fff" stroke="#231f20" stroke-width="1.0" stroke-linejoin="round" />
<path d="M690,364.9 C701,366 708.6,379 708.6,395.4 C708.6,411 701.5,423.5 692,425.3" fill="none" stroke="#231f20" stroke-width="0.8" stroke-linejoin="round" />
<ellipse cx="663.2" cy="397.7" rx="22.6" ry="31.8" fill="#fff" stroke="#231f20" stroke-width="1.0" transform="rotate(-6.5 663.2 397.7)" />
<ellipse cx="663.6" cy="397.6" rx="21.0" ry="30.2" fill="none" stroke="#231f20" stroke-width="0.8" transform="rotate(-6.5 663.6 397.6)" />
<clipPath id="c60"><ellipse cx="663.8" cy="397.6" rx="20.2" ry="29.4" transform="rotate(-6.5 663.8 397.6)"/></clipPath>
<path d="M640,360 L690,360 L690,384.4 L648,385.6 L640,386 Z" fill="#231f20" stroke="none" clip-path="url(#c60)"/>
<clipPath id="c60b"><ellipse cx="670" cy="397" rx="11.3" ry="23" transform="rotate(-6.5 670 397)"/></clipPath>
<path d="M650,360 L690,360 L690,386.5 L650,388 Z" fill="#231f20" stroke="none" clip-path="url(#c60b)"/>
<ellipse cx="670.4" cy="397" rx="11.6" ry="23.3" fill="none" stroke="#fff" stroke-width="2.4" transform="rotate(-6.5 670.4 397)" />
<ellipse cx="669.8" cy="397" rx="12.4" ry="23.8" fill="none" stroke="#231f20" stroke-width="0.9" transform="rotate(-6.5 669.8 397)" />
<ellipse cx="671.0" cy="397" rx="10.8" ry="22.7" fill="none" stroke="#231f20" stroke-width="0.7" transform="rotate(-6.5 671.0 397)" />
<path d="M706,368 C699,376 698.5,402 709.2,414.5" fill="none" stroke="#231f20" stroke-width="0.9" stroke-linejoin="round" />
<path d="M647.5,388 L648.5,400 M649,404 L650,408 M650.5,411 L652,416" fill="none" stroke="#231f20" stroke-width="0.8" stroke-linejoin="round" />
<path d="M657,420.5 L661,424.8" fill="none" stroke="#231f20" stroke-width="0.8" stroke-linejoin="round" />
<path d="M768.7,351.2 L798.8,347.9 C811,347.9 820.3,364 820.3,383 C820.3,400 813,412.5 806,413.2 L774.4,416.8 Z" fill="#fff" stroke="#231f20" stroke-width="1.0" stroke-linejoin="round" />
<path d="M811.5,376 C813.8,376 815,378 815,381 L813,401 C812.5,403 809,404 808.3,401.5 L810,378.5 C810.2,377 810.8,376 811.5,376 Z" fill="#fff" stroke="#231f20" stroke-width="0.9" stroke-linejoin="round" />
<ellipse cx="771.2" cy="384.5" rx="23.8" ry="33" fill="#fff" stroke="#231f20" stroke-width="1.0" transform="rotate(-6.5 771.2 384.5)" />
<ellipse cx="771.6" cy="384.4" rx="22.2" ry="31.4" fill="none" stroke="#231f20" stroke-width="0.8" transform="rotate(-6.5 771.6 384.4)" />
<clipPath id="c87"><ellipse cx="771.8" cy="384.4" rx="21.4" ry="30.6" transform="rotate(-6.5 771.8 384.4)"/></clipPath>
<path d="M745,345 L800,345 L800,370.8 L755,371.6 L745,372 Z" fill="#231f20" stroke="none" clip-path="url(#c87)"/>
<clipPath id="c87b"><ellipse cx="778.5" cy="383.6" rx="12" ry="24" transform="rotate(-6.5 778.5 383.6)"/></clipPath>
<path d="M760,350 L800,350 L800,372.6 L760,374 Z" fill="#231f20" stroke="none" clip-path="url(#c87b)"/>
<ellipse cx="778.9" cy="383.6" rx="12.2" ry="24.2" fill="none" stroke="#fff" stroke-width="2.4" transform="rotate(-6.5 778.9 383.6)" />
<ellipse cx="778.3" cy="383.6" rx="13.0" ry="24.7" fill="none" stroke="#231f20" stroke-width="0.9" transform="rotate(-6.5 778.3 383.6)" />
<ellipse cx="779.5" cy="383.6" rx="11.4" ry="23.6" fill="none" stroke="#231f20" stroke-width="0.7" transform="rotate(-6.5 779.5 383.6)" />
<path d="M754,377 L754,385 M755,389 L756,396 M756.5,400 L758,404" fill="none" stroke="#231f20" stroke-width="0.8" stroke-linejoin="round" />
<path d="M193.8,403.5 L245.8,398.3 Q249.2,398.3 249.2,401.5 L249.2,409.2 L271.6,407.8 Q274.2,408 274.2,410.5 L273.6,417.5 Q273.2,419.7 270.6,420.1 L263.8,421.2 Q250,423 247,427 Q246,429 246,432 L246.3,495.5 Q246,498.3 242.3,498.7 L213.6,507.2 Q206,508.5 203.1,505.2 L202.4,500.7 L205,486.3 L202.4,475.8 L206.6,462 L202.8,458.5 Q199.6,456 200.6,452 L199.8,449.6 L201.8,441.8 L199.2,436.5 L199.2,431 Q196.5,426 195.3,420 L193.8,413 Z" fill="#fff" stroke="#231f20" stroke-width="1.0" stroke-linejoin="round" />
<path d="M195.2,405.4 L246.4,400.4" fill="none" stroke="#231f20" stroke-width="0.8" stroke-linejoin="round" />
<path d="M196.7,405.8 Q197.5,425.5 208.6,426.6 Q218.2,426.5 219.6,414.2" fill="none" stroke="#231f20" stroke-width="1.0" stroke-linejoin="round" />
<path d="M219.6,414 L271.6,407.9" fill="none" stroke="#231f20" stroke-width="1.0" stroke-linejoin="round" />
<path d="M222,417.4 L270.6,411.6" fill="none" stroke="#231f20" stroke-width="0.9" stroke-linejoin="round" />
<path d="M219.6,414 Q221.5,416 222,421.3 L263.8,421" fill="none" stroke="#231f20" stroke-width="1.0" stroke-linejoin="round" />
<path d="M222,421.3 Q220,428 213.5,430.5 Q209,432 208,436" fill="none" stroke="#231f20" stroke-width="1.0" stroke-linejoin="round" />
<path d="M226.8,412 Q228,409.4 232.6,409.2 Q237,409.2 238.4,411" fill="none" stroke="#231f20" stroke-width="0.8" stroke-linejoin="round" />
<ellipse cx="264.8" cy="415.6" rx="3.2" ry="3.6" fill="#fff" stroke="#231f20" stroke-width="1.0" />
<ellipse cx="264.8" cy="415.6" rx="1.5" ry="1.8" fill="#666" stroke="none" />
<path d="M270.5,412 L271.5,419" fill="none" stroke="#231f20" stroke-width="0.6" stroke-linejoin="round" />
<ellipse cx="203.6" cy="435.6" rx="2.8" ry="3.0" fill="#9a9a9a" stroke="#231f20" stroke-width="1.0" />
<ellipse cx="204.4" cy="451.3" rx="2.8" ry="3.0" fill="#9a9a9a" stroke="#231f20" stroke-width="1.0" />
<path d="M202,434.5 L205.2,436.7 M203.2,433.3 L204,437.9" fill="none" stroke="#231f20" stroke-width="0.6" stroke-linejoin="round" />
<path d="M202.8,450.2 L206,452.4 M204,449 L204.8,453.6" fill="none" stroke="#231f20" stroke-width="0.6" stroke-linejoin="round" />
<path d="M201,441.5 Q204,444.5 207.5,441 Q209,436 209.3,432.5" fill="none" stroke="#231f20" stroke-width="0.8" stroke-linejoin="round" />
<path d="M210.9,439.8 L217.5,437.9 L215.5,456.2 L209.6,457.5 Z" fill="#fff" stroke="#231f20" stroke-width="0.9" stroke-linejoin="round" />
<path d="M212.8,441 L212.2,456.8" fill="none" stroke="#231f20" stroke-width="0.6" stroke-linejoin="round" />
<path d="M207.9,458.8 Q212,458 214.2,462.5 Q215,466 212.5,471 Q209,478 211.5,487 Q213.5,496 209.6,504.6" fill="none" stroke="#231f20" stroke-width="1.0" stroke-linejoin="round" />
<ellipse cx="233.8" cy="437.9" rx="4.9" ry="7.9" fill="#fff" stroke="#231f20" stroke-width="1.0" transform="rotate(20 233.8 437.9)" />
<path d="M237.2,431.8 Q240,437 236.5,444.5" fill="none" stroke="#231f20" stroke-width="0.7" stroke-linejoin="round" />
<ellipse cx="211.4" cy="387.2" rx="6.5" ry="2.9" fill="none" stroke="#231f20" stroke-width="1.8" transform="rotate(3 211.4 387.2)" />
<ellipse cx="259.7" cy="449.1" rx="7.4" ry="9.1" fill="#fff" stroke="#231f20" stroke-width="1.1" transform="rotate(15 259.7 449.1)" />
<ellipse cx="259.4" cy="449.1" rx="6.4" ry="8.2" fill="none" stroke="#231f20" stroke-width="0.6" transform="rotate(15 259.4 449.1)" />
<ellipse cx="260.3" cy="449.2" rx="3.7" ry="5.6" fill="#fff" stroke="#231f20" stroke-width="1.0" transform="rotate(15 260.3 449.2)" />
<path d="M253.5,446 A7.4,9.1 15 0 1 256.2,441.6" fill="none" stroke="#231f20" stroke-width="1.4" stroke-linejoin="round" />
<path d="M271.6,452.6 L279,454.8 L281.6,461.4 L271.2,458.3 Q269.5,457 270,454.5 Z" fill="#3a3a3a" stroke="#231f20" stroke-width="0.9" stroke-linejoin="round" />
<path d="M272.4,453 L273.6,459.4" fill="none" stroke="#fff" stroke-width="0.5" stroke-linejoin="round" />
<path d="M274.4,453 L275.6,459.4" fill="none" stroke="#fff" stroke-width="0.5" stroke-linejoin="round" />
<path d="M276.4,453 L277.6,459.4" fill="none" stroke="#fff" stroke-width="0.5" stroke-linejoin="round" />
<path d="M278.4,453 L279.6,459.4" fill="none" stroke="#fff" stroke-width="0.5" stroke-linejoin="round" />
<ellipse cx="284.2" cy="458.8" rx="4.6" ry="5.8" fill="#fff" stroke="#231f20" stroke-width="1.0" transform="rotate(-15 284.2 458.8)" />
<ellipse cx="285.2" cy="459.3" rx="2.2" ry="2.8" fill="#ccc" stroke="#231f20" stroke-width="0.7" transform="rotate(-15 285.2 459.3)" />
<text transform="translate(259.16,196.70) scale(0.76,1)" font-size="19.2" letter-spacing="1.8">65</text>
<text transform="translate(294.16,193.20) scale(0.76,1)" font-size="19.2" letter-spacing="1.8">24</text>
<text transform="translate(338.16,187.80) scale(0.76,1)" font-size="19.2" letter-spacing="1.8">66</text>
<text transform="translate(384.16,183.00) scale(0.76,1)" font-size="19.2" letter-spacing="1.8">67</text>
<text transform="translate(431.16,177.00) scale(0.76,1)" font-size="19.2" letter-spacing="1.8">68</text>
<text transform="translate(476.36,171.00) scale(0.76,1)" font-size="19.2" letter-spacing="1.8">73</text>
<text transform="translate(534.16,165.50) scale(0.76,1)" font-size="19.2" letter-spacing="1.8">74</text>
<text transform="translate(575.16,159.20) scale(0.76,1)" font-size="19.2" letter-spacing="1.8">75</text>
<text transform="translate(631.86,154.20) scale(0.76,1)" font-size="19.2" letter-spacing="1.8">76</text>
<text transform="translate(693.16,145.40) scale(0.76,1)" font-size="19.2" letter-spacing="1.8">90</text>
<text transform="translate(748.96,139.60) scale(0.76,1)" font-size="19.2" letter-spacing="1.8">89</text>
<text transform="translate(390.16,315.70) scale(0.76,1)" font-size="19.2" letter-spacing="1.8">69</text>
<text transform="translate(424.46,312.90) scale(0.76,1)" font-size="19.2" letter-spacing="1.8">95</text>
<text transform="translate(462.66,307.90) scale(0.76,1)" font-size="19.2" letter-spacing="1.8">70</text>
<text transform="translate(521.36,300.00) scale(0.76,1)" font-size="19.2" letter-spacing="1.8">71</text>
<text transform="translate(581.26,294.10) scale(0.76,1)" font-size="19.2" letter-spacing="1.8">72</text>
<text transform="translate(140.76,345.90) scale(0.76,1)" font-size="19.2" letter-spacing="1.8">54</text>
<text transform="translate(140.66,375.00) scale(0.76,1)" font-size="19.2" letter-spacing="1.8">48</text>
<text transform="translate(140.66,401.70) scale(0.76,1)" font-size="19.2" letter-spacing="1.8">50</text>
<text transform="translate(303.26,492.40) scale(0.76,1)" font-size="19.2" letter-spacing="1.8">35</text>
<text transform="translate(303.26,522.10) scale(0.76,1)" font-size="19.2" letter-spacing="1.8">34</text>
<text transform="translate(429.36,376.30) scale(0.76,1)" font-size="19.2" letter-spacing="1.8">77</text>
<text transform="translate(509.56,368.00) scale(0.76,1)" font-size="19.2" letter-spacing="1.8">78</text>
<text transform="translate(573.06,360.10) scale(0.76,1)" font-size="19.2" letter-spacing="1.8">41</text>
<text transform="translate(617.56,353.60) scale(0.76,1)" font-size="19.2" letter-spacing="1.8">60</text>
<text transform="translate(725.26,340.40) scale(0.76,1)" font-size="19.2" letter-spacing="1.8">87</text>
<circle cx="506.3" cy="165.5" r="10.4" fill="none" stroke="#231f20" stroke-width="1.45"/>
<text transform="translate(505.70,172.40) scale(0.7,1)" font-size="19.5" text-anchor="middle">C</text>
<circle cx="604.8" cy="152.6" r="10.4" fill="none" stroke="#231f20" stroke-width="1.45"/>
<text transform="translate(604.20,159.50) scale(0.64,1)" font-size="19.5" text-anchor="middle">D</text>
<circle cx="661.3" cy="147.4" r="10.4" fill="none" stroke="#231f20" stroke-width="1.45"/>
<text transform="translate(660.70,154.30) scale(0.64,1)" font-size="19.5" text-anchor="middle">D</text>
<circle cx="723.2" cy="138.9" r="10.4" fill="none" stroke="#231f20" stroke-width="1.45"/>
<text transform="translate(722.60,145.80) scale(0.6,1)" font-size="19.5" text-anchor="middle">F</text>
<circle cx="779.1" cy="133" r="10.4" fill="none" stroke="#231f20" stroke-width="1.45"/>
<text transform="translate(778.50,139.90) scale(0.6,1)" font-size="19.5" text-anchor="middle">F</text>
<circle cx="491.5" cy="300.2" r="10.4" fill="none" stroke="#231f20" stroke-width="1.45"/>
<text transform="translate(490.90,307.10) scale(0.7,1)" font-size="19.5" text-anchor="middle">C</text>
<circle cx="550.2" cy="292.9" r="10.4" fill="none" stroke="#231f20" stroke-width="1.45"/>
<text transform="translate(549.60,299.80) scale(0.7,1)" font-size="19.5" text-anchor="middle">C</text>
<circle cx="647" cy="346.1" r="10.4" fill="none" stroke="#231f20" stroke-width="1.45"/>
<text transform="translate(646.40,353.00) scale(0.6,1)" font-size="19.5" text-anchor="middle">E</text>
<circle cx="755" cy="333.6" r="10.4" fill="none" stroke="#231f20" stroke-width="1.45"/>
<text transform="translate(754.40,340.50) scale(0.6,1)" font-size="19.5" text-anchor="middle">E</text>
<path d="M348,156 L348,150.3 M348,156 L342.6,153.9 M348,156 L353.6,153.9 M348,156 L344.6,160.3 M348,156 L351.5,160.3" fill="none" stroke="#ed1c24" stroke-width="2.7" stroke-linecap="butt"/>
<path d="M263.8,200.1 L237.3,224.4" fill="none" stroke="#231f20" stroke-width="1.1"/>
<path d="M303.9,196 L292,248.6" fill="none" stroke="#231f20" stroke-width="1.1"/>
<path d="M352.6,190.4 L316.4,243.8" fill="none" stroke="#231f20" stroke-width="1.1"/>
<path d="M394.5,187.5 L357.4,238.2" fill="none" stroke="#231f20" stroke-width="1.1"/>
<path d="M441.7,181.1 L396.4,224.8 L394.8,236.7" fill="none" stroke="#231f20" stroke-width="1.1"/>
<path d="M396.1,300.4 L415,256.4" fill="none" stroke="#231f20" stroke-width="1.1"/>
<path d="M432.4,297.3 L440.4,253.3" fill="none" stroke="#231f20" stroke-width="1.1"/>
<path d="M467,292.4 L461.6,248.6" fill="none" stroke="#231f20" stroke-width="1.1"/>
<path d="M521,283.3 L488,248.7" fill="none" stroke="#231f20" stroke-width="1.1"/>
<path d="M579.4,276.7 L520,244" fill="none" stroke="#231f20" stroke-width="1.1"/>
<path d="M545.2,168.8 L574.8,218.3" fill="none" stroke="#231f20" stroke-width="1.1"/>
<path d="M590.5,163.8 L645.9,208" fill="none" stroke="#231f20" stroke-width="1.1"/>
<path d="M648,159.2 L698.6,196" fill="none" stroke="#231f20" stroke-width="1.1"/>
<path d="M708.3,148.8 L745.8,177.5 L784.3,191.7" fill="none" stroke="#231f20" stroke-width="1.1"/>
<path d="M761,144.2 L784.3,168.7 L821,188.5" fill="none" stroke="#231f20" stroke-width="1.1"/>
<path d="M163.5,326.7 L214.8,291" fill="none" stroke="#231f20" stroke-width="1.1"/>
<path d="M163.5,369.8 L203.7,384.6" fill="none" stroke="#231f20" stroke-width="1.1"/>
<path d="M164.3,402.7 L193.8,415.7" fill="none" stroke="#231f20" stroke-width="1.1"/>
<path d="M279.5,464.4 L279.5,485.2 L303.8,484.5" fill="none" stroke="#231f20" stroke-width="1.1"/>
<path d="M258.7,459.4 L275.2,516.8 L303.8,516" fill="none" stroke="#231f20" stroke-width="1.1"/>
<path d="M443,379.5 L460,401.3" fill="none" stroke="#231f20" stroke-width="1.1"/>
<path d="M524.3,369.8 L533.3,387.8" fill="none" stroke="#231f20" stroke-width="1.1"/>
<path d="M592.5,362.3 L604.4,398" fill="none" stroke="#231f20" stroke-width="1.1"/>
<path d="M632.3,355.8 L643.5,372.9" fill="none" stroke="#231f20" stroke-width="1.1"/>
<path d="M741,343.3 L752.9,359" fill="none" stroke="#231f20" stroke-width="1.1"/>
<path d="M489.6,176 L509.5,203.8 L531.9,217.4" fill="none" stroke="#231f20" stroke-width="1.1" stroke-linejoin="round"/>
<path d="M832,192.3 L842.2,191.2 L842.2,295.3 L407.4,345.7 L407.4,429 L437.3,424.2" fill="none" stroke="#231f20" stroke-width="1.15" stroke-dasharray="11.4 3.6 2.9 3.6" stroke-dashoffset="-0.2"/>
</svg></body></html>
